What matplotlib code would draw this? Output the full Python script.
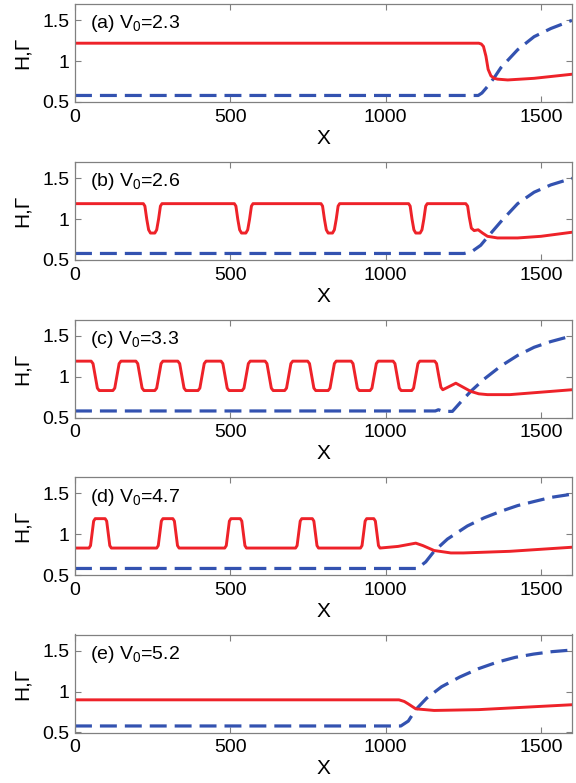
# ==========================================
# H AND GAMMA PROFILES FOR FIVE V0 VALUES
# ==========================================

import matplotlib
matplotlib.use("Agg")
import matplotlib.pyplot as plt

plt.rcParams["font.family"] = ["Liberation Sans", "DejaVu Sans"]
plt.rcParams["mathtext.fontset"] = "custom"
plt.rcParams["mathtext.rm"] = "Liberation Sans"
plt.rcParams["mathtext.it"] = "Liberation Sans:italic"

# ==========================================
# DATA
# ==========================================

labels = ["(a)", "(b)", "(c)", "(d)", "(e)"]
v0_values = ["2.3", "2.6", "3.3", "4.7", "5.2"]

# (a) V0 = 2.3
red_x_a = [0, 1300, 1308, 1315, 1323, 1330, 1339, 1350, 1360, 1393, 1478, 1600]
red_y_a = [1.22, 1.22, 1.21, 1.18, 1.06, 0.90, 0.82, 0.79, 0.78, 0.77, 0.79, 0.84]
blue_x_a = [0, 1298, 1310, 1328, 1350, 1371, 1425, 1478, 1532, 1600]
blue_y_a = [0.58, 0.58, 0.61, 0.69, 0.80, 0.92, 1.14, 1.30, 1.40, 1.50]

# (b) V0 = 2.6
red_x_b = [0,
           220, 225, 231, 237, 243, 257, 263, 269, 275, 280,
           513, 518, 524, 530, 536, 550, 556, 562, 568, 573,
           792, 797, 803, 809, 815, 829, 835, 841, 847, 852,
           1074, 1079, 1085, 1091, 1097, 1111, 1117, 1123, 1129, 1134,
           1258, 1264, 1269, 1276, 1285, 1298, 1312, 1328, 1360, 1425, 1500, 1600]
red_y_b = [1.19,
           1.19, 1.16, 1.00, 0.87, 0.83, 0.83, 0.87, 1.00, 1.16, 1.19,
           1.19, 1.16, 1.00, 0.87, 0.83, 0.83, 0.87, 1.00, 1.16, 1.19,
           1.19, 1.16, 1.00, 0.87, 0.83, 0.83, 0.87, 1.00, 1.16, 1.19,
           1.19, 1.16, 1.00, 0.87, 0.83, 0.83, 0.87, 1.00, 1.16, 1.19,
           1.19, 1.16, 1.03, 0.89, 0.86, 0.87, 0.83, 0.79, 0.77, 0.77, 0.79, 0.84]
blue_x_b = [0, 1253, 1280, 1306, 1328, 1371, 1425, 1478, 1532, 1600]
blue_y_b = [0.58, 0.58, 0.61, 0.68, 0.78, 0.97, 1.19, 1.33, 1.42, 1.50]

# (c) V0 = 3.3
red_x_c = [0, 52, 58, 65, 72, 78,
           122, 128, 135, 142, 148, 196, 202, 209, 216, 222,
           257, 263, 270, 277, 283, 331, 337, 344, 351, 357,
           396, 402, 409, 416, 422, 470, 476, 483, 490, 496,
           538, 544, 551, 558, 564, 612, 618, 625, 632, 638,
           675, 681, 688, 695, 701, 749, 755, 762, 769, 775,
           815, 821, 828, 835, 841, 889, 895, 902, 909, 915,
           950, 956, 963, 970, 976, 1024, 1030, 1037, 1044, 1050,
           1084, 1090, 1097, 1104, 1110, 1158, 1164, 1171, 1178, 1184,
           1200, 1226, 1250, 1274, 1300, 1328, 1400, 1500, 1600]
red_y_c = [1.19, 1.19, 1.16, 1.01, 0.86, 0.83,
           0.83, 0.86, 1.01, 1.16, 1.19, 1.19, 1.16, 1.01, 0.86, 0.83,
           0.83, 0.86, 1.01, 1.16, 1.19, 1.19, 1.16, 1.01, 0.86, 0.83,
           0.83, 0.86, 1.01, 1.16, 1.19, 1.19, 1.16, 1.01, 0.86, 0.83,
           0.83, 0.86, 1.01, 1.16, 1.19, 1.19, 1.16, 1.01, 0.86, 0.83,
           0.83, 0.86, 1.01, 1.16, 1.19, 1.19, 1.16, 1.01, 0.86, 0.83,
           0.83, 0.86, 1.01, 1.16, 1.19, 1.19, 1.16, 1.01, 0.86, 0.83,
           0.83, 0.86, 1.01, 1.16, 1.19, 1.19, 1.16, 1.01, 0.86, 0.83,
           0.83, 0.86, 1.01, 1.16, 1.19, 1.19, 1.16, 1.01, 0.87, 0.84,
           0.87, 0.92, 0.87, 0.82, 0.79, 0.78, 0.78, 0.81, 0.84]
blue_x_c = [0, 1160, 1170, 1185, 1215, 1242, 1274, 1317, 1371, 1425, 1478, 1532, 1600]
blue_y_c = [0.58, 0.58, 0.595, 0.575, 0.575, 0.69, 0.82, 0.97, 1.13, 1.26, 1.36, 1.43, 1.50]

# (d) V0 = 4.7
red_x_d = [0,
           45, 50, 55, 60, 65, 97, 102, 107, 112, 117,
           263, 268, 273, 278, 283, 315, 320, 325, 330, 335,
           482, 487, 492, 497, 502, 532, 537, 542, 547, 552,
           710, 715, 720, 725, 730, 764, 769, 774, 779, 784,
           919, 924, 929, 934, 939, 962, 967, 972, 977, 982,
           1040, 1097, 1120, 1156, 1210, 1250, 1400, 1600]
red_y_d = [0.83,
           0.83, 0.86, 1.01, 1.16, 1.19, 1.19, 1.16, 1.01, 0.86, 0.83,
           0.83, 0.86, 1.01, 1.16, 1.19, 1.19, 1.16, 1.01, 0.86, 0.83,
           0.83, 0.86, 1.01, 1.16, 1.19, 1.19, 1.16, 1.01, 0.86, 0.83,
           0.83, 0.86, 1.01, 1.16, 1.19, 1.19, 1.16, 1.01, 0.86, 0.83,
           0.83, 0.86, 1.01, 1.16, 1.19, 1.19, 1.16, 1.01, 0.86, 0.83,
           0.85, 0.89, 0.86, 0.80, 0.77, 0.77, 0.79, 0.84]
blue_x_d = [0, 1102, 1129, 1156, 1199, 1263, 1317, 1371, 1425, 1478, 1532, 1600]
blue_y_d = [0.58, 0.58, 0.66, 0.79, 0.94, 1.10, 1.20, 1.28, 1.35, 1.40, 1.45, 1.49]

# (e) V0 = 5.2
red_x_e = [0, 1043, 1060, 1073, 1097, 1156, 1300, 1450, 1600]
red_y_e = [0.90, 0.90, 0.88, 0.85, 0.79, 0.77, 0.78, 0.81, 0.84]
blue_x_e = [0, 1049, 1073, 1097, 1132, 1180, 1239, 1298, 1358, 1417, 1476, 1536, 1600]
blue_y_e = [0.58, 0.58, 0.64, 0.78, 0.92, 1.06, 1.18, 1.28, 1.36, 1.42, 1.46, 1.49, 1.51]

red_x = [red_x_a, red_x_b, red_x_c, red_x_d, red_x_e]
red_y = [red_y_a, red_y_b, red_y_c, red_y_d, red_y_e]
blue_x = [blue_x_a, blue_x_b, blue_x_c, blue_x_d, blue_x_e]
blue_y = [blue_y_a, blue_y_b, blue_y_c, blue_y_d, blue_y_e]

x_ticks = [0, 500, 1000, 1500]
y_ticks = [0.5, 1.0, 1.5]
y_tick_labels = ["0.5", "1", "1.5"]

# ==========================================
# FIGURE
# ==========================================

W, H = 576, 783
fig = plt.figure(figsize=(W / 100, H / 100), dpi=100)

left_px = 75
width_px = 497
height_px = 98
tops_px = [4, 162, 319.5, 477, 634.5]

red_color = "#ee2229"
blue_color = "#3352b0"
gray = "#808080"

for i in range(5):
    bottom = 1 - (tops_px[i] + height_px) / H
    ax = fig.add_axes([left_px / W, bottom, width_px / W, height_px / H])

    ax.plot(
        blue_x[i], blue_y[i],
        color=blue_color, lw=2.3, dashes=(5.3, 2.5),
        solid_capstyle="butt", dash_capstyle="butt"
    )
    ax.plot(
        red_x[i], red_y[i],
        color=red_color, lw=2.1, solid_joinstyle="round"
    )

    ax.set_xlim(0, 1600)
    ax.set_ylim(0.5, 1.7)
    ax.set_xticks(x_ticks)
    ax.set_yticks(y_ticks)
    ax.set_yticklabels(y_tick_labels)

    ax.tick_params(
        direction="in", length=4, width=0.8, color=gray,
        top=True, right=True, labelsize=14
    )
    ax.tick_params(axis="x", pad=5)
    ax.tick_params(axis="y", pad=4)

    for s in ax.spines.values():
        s.set_color(gray)
        s.set_linewidth(0.9)

    ax.set_xlabel("X", fontsize=15)
    ax.xaxis.set_label_coords(0.5, -0.275)
    ax.set_ylabel("H,\u0393", fontsize=15)
    ax.yaxis.set_label_coords(-0.087, 0.5)

    ax.text(
        0.03, 0.75,
        labels[i] + " V$_0$=" + v0_values[i],
        transform=ax.transAxes, fontsize=14,
        ha="left", va="baseline"
    )

fig.savefig("out.png", dpi=100)
